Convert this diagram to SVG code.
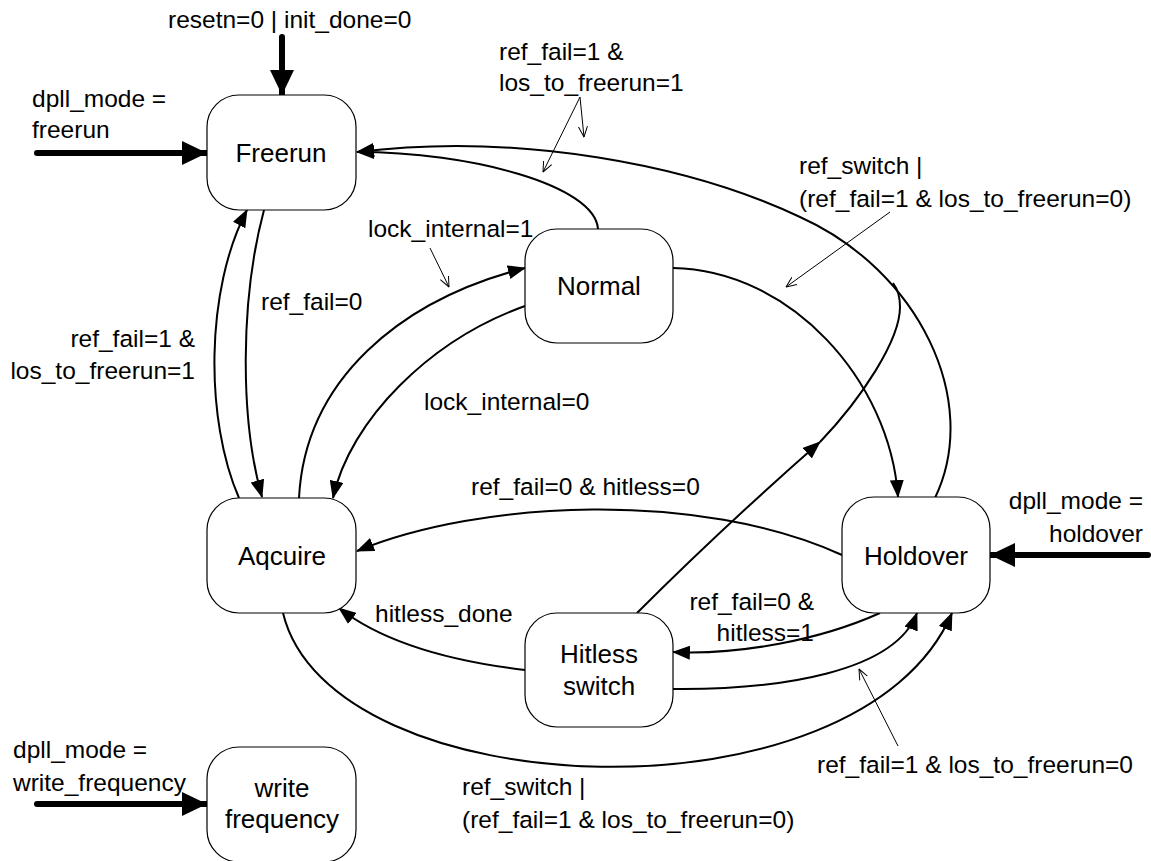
<svg xmlns="http://www.w3.org/2000/svg" width="1151" height="861" viewBox="0 0 1151 861">
<style>
.node{fill:#fff;stroke:#000;stroke-width:1.2}
.nt{font-family:"Liberation Sans",Arial,sans-serif;font-size:26px;fill:#000;text-anchor:middle}
.lb{font-family:"Liberation Sans",Arial,sans-serif;font-size:24.5px;fill:#000}
.c{fill:none;stroke:#000;stroke-width:2}
.thick{fill:none;stroke:#000;stroke-width:6;stroke-linecap:round}
.ptr{fill:none;stroke:#000;stroke-width:1}
</style>
<defs>
<marker id="arr" viewBox="0 0 18 14" markerWidth="18" markerHeight="14" refX="17" refY="7" orient="auto" markerUnits="userSpaceOnUse">
<path d="M0,0 L18,7 L0,14 z" fill="#000"/>
</marker>
<marker id="big" viewBox="0 0 25 24" markerWidth="25" markerHeight="24" refX="25" refY="12" orient="auto" markerUnits="userSpaceOnUse">
<path d="M0,0 L25,12 L0,24 z" fill="#000"/>
</marker>
<marker id="open" viewBox="0 0 11 10" markerWidth="11" markerHeight="10" refX="10.5" refY="5" orient="auto" markerUnits="userSpaceOnUse">
<path d="M0,0.5 L10.5,5 L0,9.5" fill="none" stroke="#000" stroke-width="1"/>
</marker>
</defs>
<rect width="1151" height="861" fill="#fff"/>

<g id="connectors">
<path class="thick" d="M282,37 L282,95" marker-end="url(#big)"/>
<path class="thick" d="M37,153 L207,153" marker-end="url(#big)"/>
<path class="thick" d="M1148,555 L990,555" marker-end="url(#big)"/>
<path class="thick" d="M37,804 L207,804" marker-end="url(#big)"/>

<path class="c" d="M935,498 C982,400 918,270 800,217 C690,165 520,132 357,152" marker-end="url(#arr)"/>
<path class="c" d="M598,229 C595,185 470,152 357,152" marker-end="url(#arr)"/>
<path class="c" d="M673,268 C790,270 890,380 898,497" marker-end="url(#arr)"/>
<path class="c" d="M264,210 C240,300 240,420 262,497" marker-end="url(#arr)"/>
<path class="c" d="M239,498 C205,420 205,290 247,210" marker-end="url(#arr)"/>
<path class="c" d="M299,498 C305,380 400,300 525,268" marker-end="url(#arr)"/>
<path class="c" d="M525,306 C430,340 350,420 333,498" marker-end="url(#arr)"/>
<path class="c" d="M842,555 C700,490 480,500 357,551" marker-end="url(#arr)"/>
<path class="c" d="M525,670 C440,660 380,640 339,608" marker-end="url(#arr)"/>
<path class="c" d="M880,613 C820,640 740,655 673,652" marker-end="url(#arr)"/>
<path class="c" d="M673,689 C780,690 895,672 917,613" marker-end="url(#arr)"/>
<path class="c" d="M283,613 C330,808 860,828 952,613" marker-end="url(#arr)"/>
<path class="c" d="M637,613 Q722,528 820,442" marker-end="url(#arr)"/>
<path class="c" d="M820,442 C862,398 900,340 900,307 Q900,292 893,283"/>

<path class="ptr" d="M580,97 L543,172" marker-end="url(#open)"/>
<path class="ptr" d="M580,97 L584,137" marker-end="url(#open)"/>
<path class="ptr" d="M430,248 L449,287" marker-end="url(#open)"/>
<path class="ptr" d="M890,212 L786,287" marker-end="url(#open)"/>
<path class="ptr" d="M898,746 L859,669" marker-end="url(#open)"/>
</g>

<g id="freerun"><rect class="node" x="207" y="95" width="149" height="115" rx="32"/><text class="nt" x="281" y="162">Freerun</text></g>
<g id="normal"><rect class="node" x="525" y="229" width="148" height="114" rx="32"/><text class="nt" x="599" y="295">Normal</text></g>
<g id="aqcuire"><rect class="node" x="207" y="498" width="149" height="115" rx="32"/><text class="nt" x="282" y="565">Aqcuire</text></g>
<g id="holdover"><rect class="node" x="842" y="497" width="148" height="116" rx="32"/><text class="nt" x="916" y="565">Holdover</text></g>
<g id="hitless"><rect class="node" x="525" y="613" width="148" height="114" rx="32"/><text class="nt" x="599" y="663">Hitless</text><text class="nt" x="599" y="695">switch</text></g>
<g id="write"><rect class="node" x="207" y="747" width="149" height="115" rx="32"/><text class="nt" x="282" y="797">write</text><text class="nt" x="282" y="828">frequency</text></g>

<g id="labels">
<text class="lb" x="168" y="28">resetn=0 | init_done=0</text>
<text class="lb" x="32" y="107">dpll_mode =</text>
<text class="lb" x="32" y="138">freerun</text>
<text class="lb" x="499" y="60">ref_fail=1 &amp;</text>
<text class="lb" x="499" y="91">los_to_freerun=1</text>
<text class="lb" x="368" y="237">lock_internal=1</text>
<text class="lb" x="799" y="174">ref_switch |</text>
<text class="lb" x="799" y="207">(ref_fail=1 &amp; los_to_freerun=0)</text>
<text class="lb" x="261" y="310">ref_fail=0</text>
<text class="lb" x="195" y="347" text-anchor="end">ref_fail=1 &amp;</text>
<text class="lb" x="195" y="379" text-anchor="end">los_to_freerun=1</text>
<text class="lb" x="424" y="410">lock_internal=0</text>
<text class="lb" x="471" y="495">ref_fail=0 &amp; hitless=0</text>
<text class="lb" x="1143" y="509" text-anchor="end">dpll_mode =</text>
<text class="lb" x="1143" y="542" text-anchor="end">holdover</text>
<text class="lb" x="375" y="622">hitless_done</text>
<text class="lb" x="814" y="610" text-anchor="end">ref_fail=0 &amp;</text>
<text class="lb" x="814" y="641" text-anchor="end">hitless=1</text>
<text class="lb" x="817" y="773">ref_fail=1 &amp; los_to_freerun=0</text>
<text class="lb" x="462" y="795">ref_switch |</text>
<text class="lb" x="462" y="828">(ref_fail=1 &amp; los_to_freerun=0)</text>
<text class="lb" x="13" y="758">dpll_mode =</text>
<text class="lb" x="13" y="791">write_frequency</text>
</g>
</svg>
